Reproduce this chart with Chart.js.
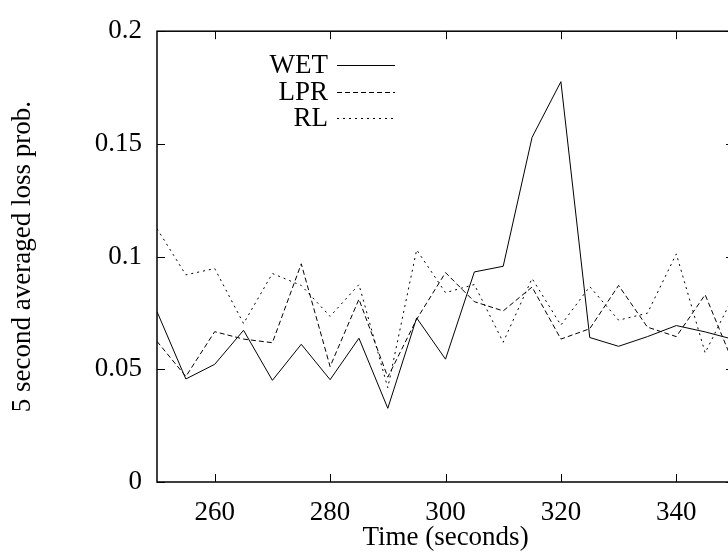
<!DOCTYPE html>
<html>
<head>
<meta charset="utf-8">
<script src="https://cdn.jsdelivr.net/npm/chart.js@4.4.1/dist/chart.umd.min.js"></script>
<style>
    html, body { margin: 0; padding: 0; background: #fff; overflow: hidden; }
    #wrap { width: 728px; height: 552px; overflow: hidden; }
    #wrap canvas { display: block; }
</style>
</head>
<body>
<div id="wrap"><canvas id="lossChart" width="740" height="554"></canvas></div>
<script>
// time axis, seconds (one sample every 5 s)
const times = [250, 255, 260, 265, 270, 275, 280, 285, 290, 295, 300,
               305, 310, 315, 320, 325, 330, 335, 340, 345, 350];

// 5 second averaged loss probability
const wetLoss = [0.0756, 0.0457, 0.0522, 0.0673, 0.0451, 0.0611, 0.0454, 0.0638, 0.0327, 0.0728, 0.0545,
                 0.0932, 0.0957, 0.1529, 0.1776, 0.0641, 0.0602, 0.0645, 0.0694, 0.0666, 0.0632];
const lprLoss = [0.0624, 0.0468, 0.0667, 0.0634, 0.0618, 0.0968, 0.0512, 0.0811, 0.0465, 0.0722, 0.0929,
                 0.0800, 0.0759, 0.0865, 0.0634, 0.0680, 0.0872, 0.0687, 0.0645, 0.0831, 0.0520];
const rlLoss  = [0.1124, 0.0919, 0.0947, 0.0703, 0.0925, 0.0872, 0.0735, 0.0876, 0.0418, 0.1030, 0.0840,
                 0.0876, 0.0620, 0.0903, 0.0696, 0.0867, 0.0718, 0.0749, 0.1012, 0.0573, 0.0830];

const seriesNames = ['WET', 'LPR', 'RL'];
const xTicks = [260, 280, 300, 320, 340];
const yTicks = [0, 0.05, 0.1, 0.15, 0.2];

const FONT = '"Liberation Serif", "DejaVu Serif", serif';
const FONT_SIZE = 27;
const TICK_LEN = 8;

function makeSeries(values) {
    return times.map((t, i) => ({ x: t, y: values[i] }));
}

// gnuplot style box with inward tick marks on all four sides
const frameBox = {
    id: 'frameBox',
    afterDraw(chart) {
        const { ctx, chartArea: a, scales } = chart;
        ctx.save();
        ctx.strokeStyle = '#000';
        ctx.lineWidth = 1.5;
        ctx.strokeRect(a.left, a.top, a.right - a.left, a.bottom - a.top);
        ctx.lineWidth = 1;
        ctx.beginPath();
        xTicks.forEach(v => {
            const px = Math.round(scales.x.getPixelForValue(v)) + 0.5;
            ctx.moveTo(px, a.bottom); ctx.lineTo(px, a.bottom - TICK_LEN);
            ctx.moveTo(px, a.top); ctx.lineTo(px, a.top + TICK_LEN);
        });
        yTicks.forEach(v => {
            const py = Math.round(scales.y.getPixelForValue(v)) + 0.5;
            ctx.moveTo(a.left, py); ctx.lineTo(a.left + TICK_LEN, py);
            ctx.moveTo(a.right, py); ctx.lineTo(a.right - TICK_LEN, py);
        });
        ctx.stroke();
        ctx.restore();
    }
};

// key: label text right aligned, line sample to its right
const keyBox = {
    id: 'keyBox',
    afterDraw(chart) {
        const { ctx } = chart;
        const textRight = 328;
        const lineFrom = 337;
        const lineTo = 395;
        ctx.save();
        ctx.font = `${FONT_SIZE}px ${FONT}`;
        ctx.textAlign = 'right';
        ctx.textBaseline = 'middle';
        ctx.fillStyle = '#000';
        chart.data.datasets.forEach((ds, i) => {
            const y = 65 + i * 26.5;
            ctx.fillText(ds.label, textRight, y + 1);
            ctx.beginPath();
            ctx.strokeStyle = ds.borderColor;
            ctx.lineWidth = ds.borderWidth;
            ctx.setLineDash(ds.borderDash || []);
            ctx.moveTo(lineFrom, Math.round(y) + 0.5);
            ctx.lineTo(lineTo, Math.round(y) + 0.5);
            ctx.stroke();
        });
        ctx.restore();
    }
};

const lineStyle = { borderColor: '#000', borderWidth: 1, pointRadius: 0, tension: 0, fill: false };

new Chart(document.getElementById('lossChart'), {
    type: 'line',
    data: {
        datasets: [
            { label: seriesNames[0], data: makeSeries(wetLoss), ...lineStyle, borderDash: [] },
            { label: seriesNames[1], data: makeSeries(lprLoss), ...lineStyle, borderDash: [5, 3] },
            { label: seriesNames[2], data: makeSeries(rlLoss), ...lineStyle, borderDash: [2, 4] }
        ]
    },
    options: {
        responsive: false,
        animation: false,
        layout: { padding: { top: 18, right: 6, left: 0, bottom: 0 } },
        plugins: {
            legend: { display: false },
            tooltip: { enabled: false }
        },
        scales: {
            x: {
                type: 'linear',
                min: 250,
                max: 350,
                grid: { display: false, drawTicks: false },
                border: { display: false },
                afterBuildTicks: scale => { scale.ticks = xTicks.map(v => ({ value: v })); },
                afterFit: scale => { scale.height = 72; },
                ticks: {
                    color: '#000',
                    padding: 15,
                    maxRotation: 0,
                    font: { family: FONT, size: FONT_SIZE },
                    callback: v => String(v)
                },
                title: {
                    display: true,
                    text: 'Time (seconds)',
                    color: '#000',
                    padding: { top: 0, bottom: 0 },
                    font: { family: FONT, size: FONT_SIZE }
                }
            },
            y: {
                type: 'linear',
                min: 0,
                max: 0.2,
                grid: { display: false, drawTicks: false },
                border: { display: false },
                afterBuildTicks: scale => { scale.ticks = yTicks.map(v => ({ value: v })); },
                afterFit: scale => { scale.width = 157; },
                ticks: {
                    color: '#000',
                    padding: 15,
                    font: { family: FONT, size: FONT_SIZE },
                    callback: v => String(v)
                },
                title: {
                    display: true,
                    text: '5 second averaged loss prob.',
                    color: '#000',
                    padding: { top: 7, bottom: 0 },
                    font: { family: FONT, size: FONT_SIZE }
                }
            }
        }
    },
    plugins: [frameBox, keyBox]
});
</script>
</body>
</html>
